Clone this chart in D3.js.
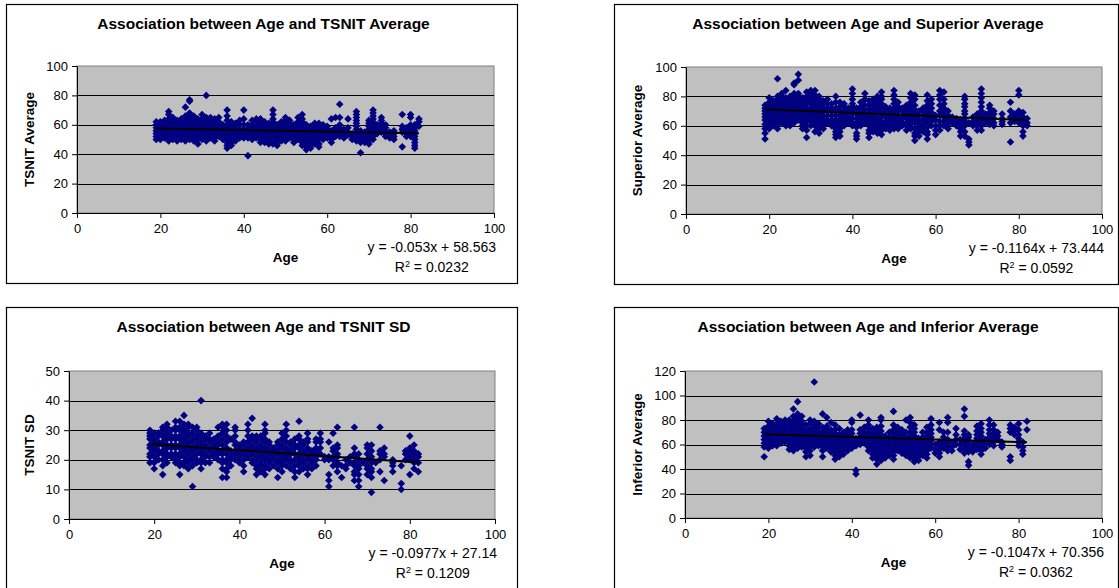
<!DOCTYPE html>
<html>
<head>
<style>
  body {
    margin: 0;
    background-color: #ffffff;
  }

  svg {
    font-family: "Liberation Sans", Arial, sans-serif;
  }

  .title {
    font-weight: bold;
    font-size: 15.5px;
  }

  .axis-title {
    font-weight: bold;
    font-size: 13.5px;
  }

  .axis text {
    font-size: 13px;
    font-family: "Liberation Sans", Arial, sans-serif;
    fill: #000;
  }
</style>
  <script src="https://d3js.org/d3.v7.min.js"></script>
</head>
<body>
<script>
  // age -> list of readings at that age, one list per chart
  const tsnitAverage = [
    [19, [50, 52, 54, 56, 58, 60, 62]], [20, [50, 52, 55, 57, 59, 62]], [21, [51, 54, 56, 58, 60, 63]],
    [22, [49, 51, 53, 56, 58, 60, 62, 64, 67, 69]], [23, [50, 52, 55, 58, 61, 63, 65]], [24, [49, 52, 54, 57, 60, 63]],
    [25, [50, 53, 55, 58, 61, 64]], [26, [49, 52, 54, 56, 58, 60, 63, 66, 72]], [27, [50, 53, 55, 57, 59, 61, 63, 65, 68, 76, 77]],
    [28, [49, 51, 53, 55, 57, 59, 61, 63, 66]], [29, [47, 50, 52, 54, 56, 58, 60, 62, 64]], [30, [50, 52, 54, 56, 58, 60, 62, 64, 67]],
    [31, [49, 51, 54, 56, 58, 60, 62, 65, 80]], [32, [51, 53, 55, 57, 59, 61, 63, 65]], [33, [49, 51, 53, 55, 57, 59, 62, 64]],
    [34, [52, 54, 56, 58, 60, 62, 65]], [35, [50, 52, 54, 56, 58, 60]], [36, [44, 46, 48, 50, 52, 54, 56, 58, 60, 63, 66, 70]],
    [37, [46, 48, 50, 52, 54, 56, 58, 60, 62]], [38, [49, 51, 53, 55, 57, 59, 61]], [39, [51, 53, 55, 57, 60, 63]],
    [40, [51, 53, 55, 57, 60, 64, 70]], [41, [39, 51, 53, 55, 57, 60]], [42, [50, 52, 54, 56, 58, 60, 63]],
    [43, [51, 53, 55, 57, 59, 62, 64]], [44, [48, 50, 52, 54, 56, 58, 60, 62, 64]], [45, [48, 50, 52, 54, 56, 58, 60, 62]],
    [46, [47, 49, 51, 53, 55, 57, 59, 61]], [47, [47, 49, 51, 53, 55, 57, 60, 62, 64, 67, 70]], [48, [46, 48, 50, 52, 54, 56, 58, 60]],
    [49, [49, 51, 53, 55, 58, 60, 62]], [50, [49, 51, 53, 55, 57, 59, 61, 63, 65]], [51, [51, 53, 55, 57, 59, 61, 63]],
    [52, [48, 50, 52, 54, 56, 58, 60]], [53, [50, 52, 54, 56, 58, 60, 62, 65]], [54, [46, 48, 50, 52, 54, 56, 58, 60, 62, 64, 67]],
    [55, [43, 45, 47, 49, 51, 53, 55, 57, 60]], [56, [44, 46, 48, 50, 52, 54, 56, 59]], [57, [47, 49, 51, 53, 55, 57, 59, 61]],
    [58, [45, 47, 50, 52, 54, 56, 58, 61]], [59, [50, 52, 54, 56, 58, 60]], [60, [51, 53, 55, 57, 59]],
    [61, [48, 50, 52, 54, 56, 64]], [62, [52, 54, 56, 58, 65]], [63, [52, 54, 56, 58, 60, 65, 74]],
    [64, [51, 53, 55, 57]], [65, [53, 55, 58, 64]], [66, [50, 52, 54]],
    [67, [49, 51, 53, 55, 57, 59, 61, 63, 65, 67, 69]], [68, [41, 48, 50, 52, 54, 56]], [69, [48, 50, 52, 55]],
    [70, [47, 49, 51, 54, 57, 59, 61, 63]], [71, [50, 52, 55, 57, 59, 62, 64, 66, 68, 70]], [72, [54, 56, 58, 60]],
    [73, [55, 57, 59, 61, 63, 65]], [74, [52, 54, 56, 58, 60]], [75, [51, 53, 55]],
    [76, [50, 52, 54, 56]], [78, [45, 55, 57, 59, 67]], [79, [52, 54, 56, 58]],
    [80, [52, 54, 56, 58, 60, 65, 67]], [81, [44, 46, 48, 50, 52, 54, 56, 58, 60]], [82, [59, 62, 64]]
  ];

  const superiorAverage = [
    [19, [51, 55, 58, 61, 64, 66, 68, 70, 72, 74]], [20, [58, 60, 62, 64, 66, 68, 70, 73, 76, 79]], [21, [60, 62, 64, 66, 68, 70, 72, 74, 77]],
    [22, [58, 61, 63, 65, 67, 69, 71, 73, 75, 78, 80, 92]], [23, [62, 64, 66, 68, 70, 72, 74, 76, 78, 80, 82]], [24, [60, 62, 64, 66, 68, 70, 72, 74, 76, 79, 84]],
    [25, [60, 63, 66, 68, 70, 72, 74, 77, 80]], [26, [62, 64, 66, 68, 70, 72, 74, 76, 78, 80, 82, 88, 89]], [27, [64, 66, 68, 70, 72, 74, 76, 78, 80, 82, 91, 95]],
    [28, [58, 60, 62, 64, 66, 68, 70, 72, 74, 76, 79]], [29, [52, 57, 60, 63, 66, 68, 70, 72, 75, 77, 80, 83]], [30, [60, 63, 65, 67, 70, 72, 75, 78, 80, 82, 84]],
    [31, [56, 60, 62, 64, 66, 68, 70, 72, 74, 76, 78, 81, 84]], [32, [55, 58, 60, 63, 65, 68, 70, 73, 75, 78, 80]], [33, [58, 60, 62, 65, 67, 70, 72, 75, 77]],
    [34, [62, 64, 67, 70, 72, 75, 78]], [35, [60, 62, 64, 67, 70, 72, 75]], [36, [52, 54, 56, 58, 60, 62, 64, 67, 70, 72, 76, 80]],
    [37, [53, 56, 58, 61, 64, 67, 70, 73, 76]], [38, [60, 62, 65, 68, 70, 73, 75]], [39, [62, 64, 66, 69, 72]],
    [40, [60, 62, 65, 68, 70, 73, 75, 78, 82, 85]], [41, [51, 53, 55, 59, 62, 65, 68, 72]], [42, [60, 62, 64, 67, 70, 73, 76]],
    [43, [62, 65, 68, 71, 74, 78, 82]], [44, [52, 55, 57, 60, 63, 66, 68, 71, 74, 77]], [45, [56, 58, 61, 64, 66, 69, 72, 75, 78]],
    [46, [55, 58, 60, 62, 65, 68, 70, 73, 76, 78, 80]], [47, [54, 57, 60, 63, 66, 69, 72, 75, 78, 80, 83]], [48, [58, 61, 63, 66, 68, 71, 73]],
    [49, [57, 60, 62, 65, 67, 70, 72]], [50, [58, 60, 63, 66, 69, 72, 75, 78, 81, 84]], [51, [58, 61, 64, 67, 70, 73, 76]],
    [52, [60, 62, 65, 67, 70, 72]], [53, [57, 60, 62, 65, 68, 71, 74]], [54, [58, 61, 64, 67, 70, 73, 76, 79, 82]],
    [55, [50, 53, 55, 58, 62, 65, 68, 71, 74, 78, 81]], [56, [53, 56, 58, 61, 64, 67, 70]], [57, [56, 58, 61, 64, 67, 70, 72]],
    [58, [51, 54, 56, 59, 62, 65, 68, 71, 74, 77, 81]], [59, [60, 63, 66, 69, 72, 75, 78]], [60, [54, 57, 60, 64, 67]],
    [61, [57, 60, 63, 67, 70, 74, 78, 81, 84]], [62, [60, 63, 66, 69, 72, 75, 78, 83]], [63, [58, 61, 64, 67, 70]],
    [64, [62, 64, 66]], [65, [60, 63, 65]], [66, [53, 56, 58, 61, 64]],
    [67, [53, 56, 60, 63, 65, 68, 70, 73, 75, 78, 80]], [68, [47, 49, 51, 62]], [69, [60, 63, 66]],
    [70, [57, 60, 62, 65, 68]], [71, [57, 60, 64, 67, 70, 73, 76, 79, 82, 85]], [72, [62, 65, 68]],
    [73, [61, 64, 66, 69, 72, 74]], [74, [60, 62, 65, 68, 70]], [76, [61, 63, 65, 68]],
    [78, [49, 62, 66, 70, 76]], [79, [63, 65, 68]], [80, [62, 64, 66, 68, 70, 81, 84]],
    [81, [53, 56, 60, 63, 66, 69]], [82, [60, 62, 65]]
  ];

  const tsnitSD = [
    [19, [19, 21, 22, 24, 25, 27, 28, 29, 30]], [20, [17, 19, 21, 23, 24, 26, 27, 29]], [21, [20, 22, 23, 25, 26, 28, 29]],
    [22, [15, 18, 20, 22, 23, 25, 26, 28, 30, 31]], [23, [19, 21, 22, 24, 25, 27, 29, 31, 32]], [24, [21, 22, 24, 25, 27, 28, 30]],
    [25, [19, 20, 22, 24, 25, 27, 28, 30, 31, 33]], [26, [15, 18, 19, 21, 22, 24, 25, 27, 28, 30, 31, 33]], [27, [18, 19, 21, 23, 24, 26, 27, 29, 30, 32, 35]],
    [28, [17, 19, 20, 22, 23, 25, 26, 28, 29, 31, 32]], [29, [11, 18, 20, 21, 23, 24, 26, 27, 29, 31]], [30, [19, 20, 22, 24, 25, 27, 28, 30, 31]],
    [31, [17, 19, 20, 22, 23, 25, 26, 28, 29, 40]], [32, [19, 21, 22, 24, 25, 27, 28]], [33, [19, 21, 23, 24, 26, 27, 29]],
    [34, [21, 22, 24, 25, 27]], [35, [20, 22, 23, 25, 26, 28, 31]], [36, [14, 17, 19, 20, 22, 23, 25, 27, 29, 31, 32]],
    [37, [14, 16, 17, 19, 20, 22, 24, 26, 28, 30, 32]], [38, [18, 20, 21, 23, 27]], [39, [20, 22, 23, 25, 26, 28, 30, 31]],
    [40, [19, 21, 22, 24, 25]], [41, [16, 18, 20, 22, 23, 25, 26]], [42, [21, 23, 24, 26, 28, 30, 32]],
    [43, [19, 20, 22, 24, 25, 27, 28, 34]], [44, [15, 17, 18, 20, 21, 23, 24, 26, 27, 28]], [45, [16, 18, 19, 21, 22, 24, 25, 27, 28]],
    [46, [15, 17, 18, 20, 21, 23, 24, 26, 27, 29, 30, 32]], [47, [17, 19, 20, 22, 23, 25, 26]], [48, [18, 20, 21, 23, 24]],
    [49, [14, 17, 19, 20, 22, 23, 25, 26]], [50, [16, 18, 19, 21, 22, 24, 25, 27, 29]], [51, [18, 20, 21, 23, 24, 26, 28, 30, 32]],
    [52, [17, 19, 20, 22, 23, 25, 26]], [53, [14, 16, 18, 20, 22, 24, 25, 27]], [54, [16, 18, 19, 21, 22, 24, 25, 27, 28, 33]],
    [55, [17, 19, 20, 22, 23, 25, 26]], [56, [15, 17, 18, 20, 21, 23, 24, 26, 27, 29]], [57, [17, 19, 20, 22, 23]],
    [58, [18, 20, 21, 23, 24, 26, 27]], [59, [22, 24, 26, 27, 29]], [60, [20, 21]],
    [61, [11, 13, 15, 20, 21, 26]], [62, [18, 20, 21, 23, 24, 29]], [63, [16, 18, 19, 21, 22, 24, 25, 31]],
    [64, [14, 18]], [65, [17, 18, 20]], [66, [19, 21]],
    [67, [13, 15, 16, 18, 19, 21, 22, 24, 31]], [68, [11, 13, 15, 17, 18, 20, 22]], [69, [19]],
    [70, [15, 17, 18, 20, 22, 24, 25]], [71, [9, 14, 16, 17, 19, 21, 23, 25]], [72, [19]],
    [73, [16, 20, 22, 23, 31]], [74, [13, 21, 22, 24]], [76, [16, 18, 19, 20]],
    [78, [10, 12, 18]], [79, [20, 22, 23]], [80, [15, 20, 21, 23, 24, 28]],
    [81, [17, 19, 20, 22, 23, 25]], [82, [16, 19, 21, 22]]
  ];

  const inferiorAverage = [
    [19, [50, 58, 61, 64, 67, 70, 73]], [20, [57, 60, 63, 66, 69, 72, 75, 79]], [21, [59, 62, 65, 68, 71, 74, 77]],
    [22, [59, 62, 65, 68, 71, 74, 77, 81]], [23, [61, 64, 67, 70, 73, 76, 79]], [24, [62, 65, 68, 71, 74, 77, 80]],
    [25, [56, 59, 62, 65, 68, 71, 74, 77, 80]], [26, [55, 58, 61, 64, 67, 70, 73, 76, 79, 83, 89]], [27, [57, 60, 63, 66, 69, 72, 75, 78, 81, 85, 95]],
    [28, [58, 61, 64, 67, 70, 73, 76, 79, 83]], [29, [50, 54, 57, 60, 63, 66, 69, 72, 76]], [30, [51, 55, 58, 61, 64, 67, 70, 73, 77, 80]],
    [31, [58, 61, 64, 67, 70, 73, 76, 79, 111]], [32, [59, 62, 65, 68, 71, 74, 77]], [33, [50, 55, 58, 61, 64, 67, 70, 74, 85]],
    [34, [57, 60, 63, 66, 69, 72, 75, 82]], [35, [54, 57, 60, 63, 66, 69, 72, 78]], [36, [48, 51, 54, 57, 60, 63, 66, 69, 72, 76]],
    [37, [50, 53, 56, 59, 62, 65, 68, 73]], [38, [52, 55, 58, 61, 64, 67, 70]], [39, [55, 58, 61, 64, 67, 70, 72]],
    [40, [57, 60, 63, 66, 69, 72, 78, 80]], [41, [36, 39, 59, 62, 65]], [42, [60, 63, 66, 69, 72, 84]],
    [43, [61, 64, 67, 70, 74]], [44, [55, 58, 61, 64, 67, 70, 73, 76, 80]], [45, [49, 52, 55, 58, 61, 64, 67, 70, 73]],
    [46, [44, 48, 51, 54, 57, 60, 63, 66, 69, 72, 74]], [47, [47, 50, 53, 56, 59, 62, 65, 68, 71, 75, 80, 82]], [48, [49, 52, 55, 58, 61, 64, 67]],
    [49, [51, 54, 57, 60, 63, 66, 70]], [50, [48, 51, 54, 57, 60, 63, 66, 69, 72, 76, 87]], [51, [55, 58, 61, 64, 67, 70, 74]],
    [52, [53, 56, 59, 62, 65, 68, 72]], [53, [51, 54, 57, 60, 63, 66, 70, 80]], [54, [49, 52, 55, 58, 61, 64, 67, 70, 74, 78, 82]],
    [55, [46, 49, 52, 55, 58, 61, 64, 67, 70, 73, 76]], [56, [47, 50, 53, 56, 59, 62, 65]], [57, [51, 54, 57, 60, 63, 66, 70]],
    [58, [49, 52, 55, 58, 61, 64, 67, 70, 74]], [59, [57, 60, 63, 66, 69, 72, 76, 81]], [60, [53, 56, 60]],
    [61, [50, 53, 56, 59, 62, 72, 78]], [62, [57, 60, 63, 66, 70]], [63, [55, 58, 61, 64, 70, 78, 82]],
    [64, [55, 58, 62]], [65, [60, 64, 68, 73]], [66, [56, 60, 64]],
    [67, [53, 56, 59, 62, 65, 68, 71, 83, 89]], [68, [43, 46, 54, 57, 60, 63, 66, 68]], [69, [54, 57, 60]],
    [70, [56, 59, 62, 65, 68, 71, 75]], [71, [52, 55, 58, 61, 64, 67, 70, 73, 77]], [72, [57, 60, 64]],
    [73, [60, 63, 66, 69, 72, 76, 80]], [74, [59, 62, 65, 68, 72, 76]], [75, [64, 67, 70]],
    [76, [58, 60, 62]], [78, [47, 50, 70, 73, 76]], [79, [68, 71, 74]],
    [80, [59, 62, 65, 68, 72, 77]], [81, [52, 55, 58, 62]], [82, [72, 79]]
  ];

  const chartTitles = [
    'Association between Age and TSNIT Average',
    'Association between Age and Superior Average',
    'Association between Age and TSNIT SD',
    'Association between Age and Inferior Average'
  ];
  const yTitles = ['TSNIT Average', 'Superior Average', 'TSNIT SD', 'Inferior Average'];
  const yMaxes = [100, 100, 50, 120];
  const yTickSteps = [20, 20, 10, 20];
  const xTicks = [0, 20, 40, 60, 80, 100];
  const slopes = [-0.053, -0.1164, -0.0977, -0.1047];
  const intercepts = [58.563, 73.444, 27.14, 70.356];
  const equations = ['y = -0.053x + 58.563', 'y = -0.1164x + 73.444', 'y = -0.0977x + 27.14', 'y = -0.1047x + 70.356'];
  const rSquared = ['0.0232', '0.0592', '0.1209', '0.0362'];
  const ageRange = [19, 82];
  const datasets = [tsnitAverage, superiorAverage, tsnitSD, inferiorAverage];

  // layout of each chart box and its plot area (page pixels)
  const layouts = [
    { box: [6, 4, 511, 279], plot: [77, 66, 417, 147] },
    { box: [614, 4, 504, 280], plot: [686, 67, 416, 147] },
    { box: [6, 307, 511, 290], plot: [69, 371, 426, 148] },
    { box: [614, 307, 504, 290], plot: [685, 371, 417, 147] }
  ];

  const svg = d3.select('body')
    .append('svg')
    .attr('width', 1119)
    .attr('height', 588);

  const diamond = (r) => `M0,${-r}L${r},0L0,${r}L${-r},0Z`;

  const drawChart = (i) => {
    const lay = layouts[i];
    const [bx, by, bw, bh] = lay.box;
    const [px, py, pw, ph] = lay.plot;

    svg.append('rect')
      .attr('x', bx + 0.5).attr('y', by + 0.5)
      .attr('width', bw).attr('height', bh)
      .attr('fill', '#fff')
      .attr('stroke', '#000')
      .attr('stroke-width', 1.2);

    const x = d3.scaleLinear().domain([0, 100]).range([px, px + pw]);
    const y = d3.scaleLinear().domain([0, yMaxes[i]]).range([py + ph, py]);
    const yTicks = d3.range(0, yMaxes[i] + 1, yTickSteps[i]);

    // plot area
    svg.append('rect')
      .attr('x', px).attr('y', py)
      .attr('width', pw).attr('height', ph)
      .attr('fill', '#c0c0c0')
      .attr('stroke', '#808080');

    // gridlines
    svg.append('g')
      .selectAll('line')
      .data(yTicks.slice(1, -1))
      .join('line')
      .attr('x1', px).attr('x2', px + pw)
      .attr('y1', d => Math.round(y(d)) + 0.5)
      .attr('y2', d => Math.round(y(d)) + 0.5)
      .attr('stroke', '#000');

    // axes
    svg.append('g')
      .attr('class', 'axis')
      .attr('transform', `translate(${px},0)`)
      .call(d3.axisLeft(y).tickValues(yTicks).tickSize(5).tickPadding(4).tickSizeOuter(0))
      .call(g => g.selectAll('line, path').attr('stroke', '#000'));

    svg.append('g')
      .attr('class', 'axis')
      .attr('transform', `translate(0,${py + ph})`)
      .call(d3.axisBottom(x).tickValues(xTicks).tickSize(5).tickPadding(6).tickSizeOuter(0))
      .call(g => g.selectAll('line, path').attr('stroke', '#000'));

    // points
    const points = datasets[i].flatMap(([age, vals]) => vals.map(v => ({ age, v })));
    svg.append('g')
      .selectAll('path')
      .data(points)
      .join('path')
      .attr('transform', d => `translate(${x(d.age)},${y(d.v)})`)
      .attr('d', diamond(3.8))
      .attr('fill', '#000080');

    // linear trendline
    svg.append('line')
      .attr('x1', x(ageRange[0])).attr('x2', x(ageRange[1]))
      .attr('y1', y(slopes[i] * ageRange[0] + intercepts[i]))
      .attr('y2', y(slopes[i] * ageRange[1] + intercepts[i]))
      .attr('stroke', '#000')
      .attr('stroke-width', 2);

    // titles
    svg.append('text')
      .attr('class', 'title')
      .attr('x', bx + bw / 2 + 2)
      .attr('y', by + 25)
      .attr('text-anchor', 'middle')
      .text(chartTitles[i]);

    svg.append('text')
      .attr('class', 'axis-title')
      .attr('transform', `translate(${bx + 28},${py + ph / 2}) rotate(-90)`)
      .attr('text-anchor', 'middle')
      .text(yTitles[i]);

    svg.append('text')
      .attr('class', 'axis-title')
      .attr('x', px + pw / 2)
      .attr('y', py + ph + 49)
      .attr('text-anchor', 'middle')
      .text('Age');

    // trendline equation
    const eqRight = px + pw + 2;
    const eq = svg.append('text')
      .attr('x', eqRight)
      .attr('y', py + ph + 39)
      .attr('text-anchor', 'end')
      .attr('font-size', 14)
      .text(equations[i]);
    const eqWidth = eq.node().getComputedTextLength();

    const r2 = svg.append('text')
      .attr('x', eqRight - eqWidth / 2)
      .attr('y', py + ph + 59)
      .attr('text-anchor', 'middle')
      .attr('font-size', 14);
    r2.append('tspan').text('R');
    r2.append('tspan').attr('font-size', 9).attr('dy', -5).text('2');
    r2.append('tspan').attr('dy', 5).text(' = ' + rSquared[i]);
  };

  d3.range(4).forEach(drawChart);
</script>
</body>
</html>
